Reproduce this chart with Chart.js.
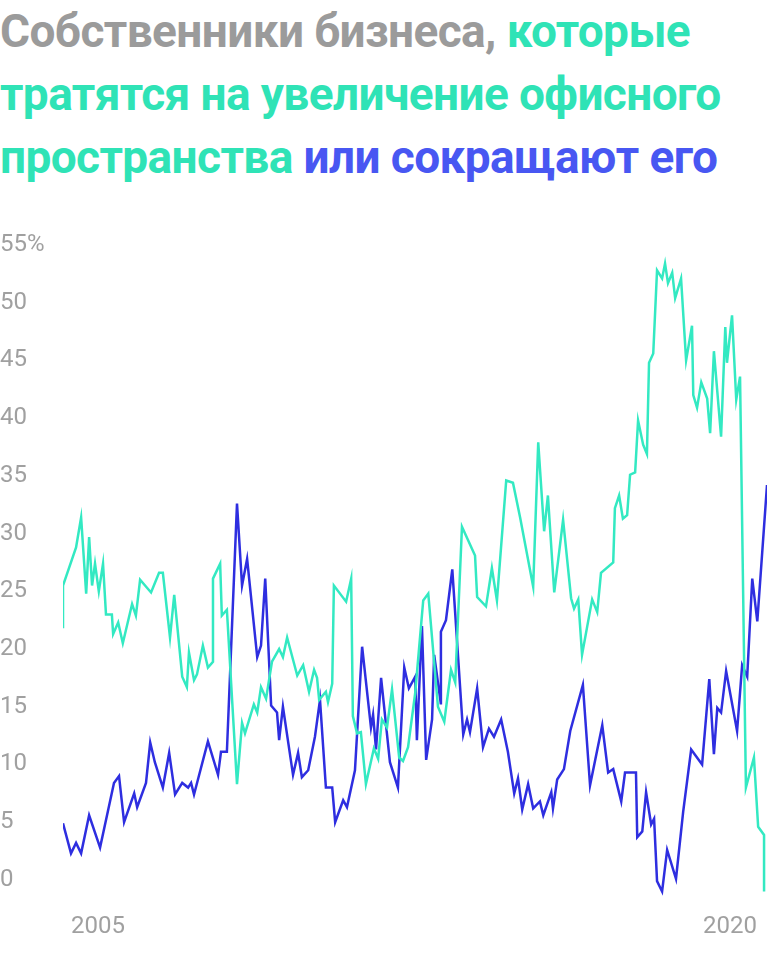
<!DOCTYPE html>
<html><head><meta charset="utf-8">
<script src="https://cdn.jsdelivr.net/npm/chart.js@4/dist/chart.umd.min.js"></script>
<style>
body{margin:0;background:#fff;font-family:Roboto,"Noto Sans",sans-serif;width:768px;height:953px;overflow:hidden;position:relative}
h1{margin:0;position:absolute;left:0;top:0px;font-size:46px;line-height:63px;font-weight:700;letter-spacing:-0.6px;color:#9b9b9b;width:768px;white-space:nowrap}
.t{color:#2fe3b6}.b{color:#4857f2}
#wrap{position:absolute;left:0;top:225px;width:768px;height:720px}
</style></head><body>
<h1>Собственники бизнеса, <span class="t">которые</span><br><span class="t">тратятся на увеличение офисного</span><br><span class="t">пространства</span> <span class="b">или сокращают его</span></h1>
<div id="wrap"><canvas id="c"></canvas></div>
<script>
const yTicks=[0,5,10,15,20,25,30,35,40,45,50,55];
const xTicks=[2005,2020];
const tealX=[2004.17,2004.17,2004.48,2004.60,2004.72,2004.79,2004.86,2004.93,2005.02,2005.12,2005.19,2005.33,2005.36,2005.48,2005.59,2005.81,2005.90,2006.00,2006.26,2006.45,2006.54,2006.71,2006.81,2007.00,2007.11,2007.16,2007.28,2007.35,2007.49,2007.61,2007.73,2007.73,2007.90,2007.94,2008.06,2008.30,2008.42,2008.49,2008.70,2008.78,2008.87,2008.99,2009.13,2009.30,2009.39,2009.49,2009.73,2009.87,2010.01,2010.13,2010.20,2010.25,2010.41,2010.46,2010.56,2010.60,2010.89,2011.01,2011.05,2011.15,2011.24,2011.36,2011.55,2011.65,2011.74,2011.86,2011.98,2012.15,2012.24,2012.36,2012.53,2012.72,2012.84,2013.07,2013.22,2013.38,2013.48,2013.64,2013.95,2014.00,2014.21,2014.35,2014.47,2014.69,2014.85,2015.02,2015.33,2015.45,2015.59,2015.68,2015.83,2016.04,2016.23,2016.30,2016.40,2016.49,2016.73,2016.85,2016.94,2017.23,2017.27,2017.37,2017.46,2017.56,2017.63,2017.75,2017.82,2017.94,2018.03,2018.08,2018.18,2018.27,2018.39,2018.46,2018.53,2018.63,2018.70,2018.84,2018.96,2019.10,2019.13,2019.22,2019.32,2019.46,2019.53,2019.62,2019.79,2019.89,2019.93,2020.05,2020.15,2020.24,2020.38,2020.57,2020.67,2020.81,2020.81];
const tealY=[21.8,25.5,28.8,31.4,24.8,29.7,25.5,27.4,25,27.4,23,23,21.3,22.3,20.5,23.9,22.9,26,24.9,26.6,26.6,21,24.7,17.6,16.7,19.7,17.3,17.8,20.3,18.4,18.9,26.1,27.4,22.9,23.4,8.3,13.6,12.7,15.2,14.5,16.7,15.7,18.9,20,19.3,21,17.7,18.6,16.3,18.2,17.5,15.6,16.3,15.4,17,25.5,24.1,26.1,14.2,12.7,12.8,8.3,11.4,10.5,13.9,13.2,16.5,10.6,10.3,11.5,16.2,24.2,24.8,15,13.7,18.2,17.1,30.6,28.1,24.5,23.7,27,24.2,34.6,34.4,31.4,25.4,37.9,30.2,33.3,24.9,31.2,24.4,23.5,24.3,19.5,24.3,23.2,26.6,27.5,32.2,33.3,31.3,31.6,35.1,35.3,39.8,37.7,36.9,44.8,45.6,52.8,52.1,53.4,51.7,52.6,50.4,52.1,45,48,42,40.9,43.1,41.7,38.7,45.8,38.4,47.9,44.8,48.9,41.6,43.6,8,10.6,4.6,3.9,-1];
const blueX=[2004.17,2004.36,2004.48,2004.60,2004.79,2005.05,2005.38,2005.50,2005.62,2005.86,2005.93,2006.14,2006.24,2006.35,2006.54,2006.69,2006.83,2007.00,2007.14,2007.21,2007.28,2007.61,2007.85,2007.92,2008.06,2008.30,2008.42,2008.54,2008.78,2008.87,2008.97,2009.11,2009.25,2009.30,2009.39,2009.63,2009.75,2009.84,2009.99,2010.15,2010.27,2010.41,2010.56,2010.63,2010.82,2010.91,2011.10,2011.27,2011.48,2011.53,2011.60,2011.72,2011.93,2012.12,2012.27,2012.38,2012.53,2012.57,2012.69,2012.79,2012.93,2012.98,2013.14,2013.14,2013.26,2013.41,2013.67,2013.76,2013.83,2014.00,2014.14,2014.28,2014.40,2014.57,2014.73,2014.88,2014.97,2015.07,2015.21,2015.33,2015.49,2015.57,2015.76,2015.80,2015.90,2016.06,2016.21,2016.51,2016.68,2016.97,2017.11,2017.23,2017.42,2017.51,2017.77,2017.80,2017.92,2018.01,2018.13,2018.20,2018.27,2018.39,2018.51,2018.72,2018.89,2019.08,2019.34,2019.51,2019.62,2019.70,2019.79,2019.91,2020.17,2020.29,2020.41,2020.53,2020.65,2020.88];
const blueY=[4.9,2.3,3.2,2.3,5.6,2.8,8.4,9,5,7.5,6.3,8.4,11.9,10.2,8,11,7.4,8.4,8,8.4,7.4,12,9.1,11.1,11.1,32.6,25.5,27.8,19.3,20.3,26.1,15.1,14.5,12.1,15,9.1,11,8.9,9.5,12.4,15.6,8,8,5,6.9,6.3,9.5,20.2,13.2,14.3,11.3,17.5,10.2,8,18.4,16.6,17.6,12.1,22,10.4,13.9,19.5,15.2,21.5,22.5,26.9,12.6,13.9,12.8,16.6,11.5,13.1,12.4,13.9,11.1,7.5,8.8,6.1,8.3,6.2,6.8,5.6,7.6,6.2,8.7,9.6,12.9,16.9,8.2,13.4,9.3,9.6,6.8,9.3,9.3,3.7,4.2,7.6,4.8,5.3,-0.1,-1,2.6,0.1,5.9,11.3,10,17.4,10.9,14.9,14.5,18.1,12.9,18.6,17.6,26.1,22.4,34.2];
const pts=(xs,ys)=>xs.map((x,i)=>({x:x,y:ys[i]}));
new Chart(document.getElementById('c'),{
type:'line',
data:{datasets:[
{data:pts(tealX,tealY),borderColor:'#33e9c2',borderWidth:2.5,pointRadius:0,tension:0},
{data:pts(blueX,blueY),borderColor:'#2e2ee0',borderWidth:2.5,pointRadius:0,tension:0}]},
options:{responsive:true,maintainAspectRatio:false,animation:false,
layout:{padding:{top:20,right:1,left:0,bottom:0}},
plugins:{legend:{display:false},tooltip:{enabled:false}},
scales:{
x:{type:'linear',min:2004.17,max:2020.88,grid:{display:false},border:{display:false},
 afterBuildTicks:s=>{s.ticks=xTicks.map(v=>({value:v}))},
 afterFit:s=>{s.height=42},
 ticks:{color:'#a0a0a0',font:{family:'Roboto',size:24},padding:2,maxRotation:0,callback:v=>String(v)}},
y:{min:-2,max:55,grid:{display:false},border:{display:false},
 afterBuildTicks:s=>{s.ticks=yTicks.map(v=>({value:v}))},
 afterFit:s=>{s.width=63},
 ticks:{color:'#a0a0a0',font:{family:'Roboto',size:24},crossAlign:'far',padding:0,callback:v=>v===55?'55%':String(v)}}
}}});
</script></body></html>
